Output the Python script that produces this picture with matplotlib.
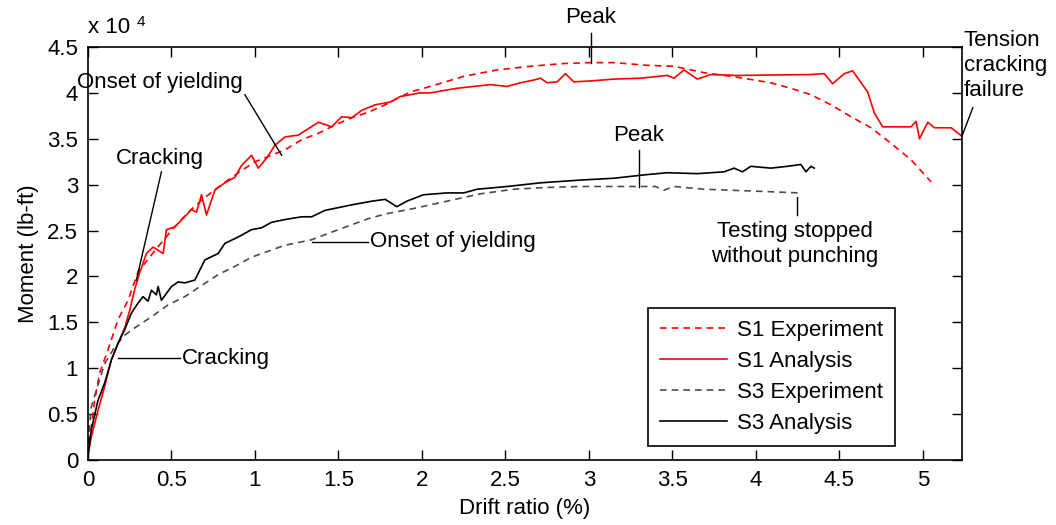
import matplotlib
matplotlib.use("Agg")
import matplotlib.pyplot as plt

# --------------------------------------------------
# Data (drift ratio in %, moment in lb-ft)
# --------------------------------------------------
s1_exp_x = [0, 0.04, 0.07, 0.12, 0.18, 0.24, 0.30, 0.40, 0.50, 0.60, 0.70, 0.80,
            0.90, 1.00, 1.10, 1.18, 1.28, 1.38, 1.48, 1.58, 1.68, 1.78, 1.93, 2.05,
            2.25, 2.45, 2.65, 2.85, 3.01, 3.15, 3.35, 3.51, 3.69, 3.89, 4.09, 4.21,
            4.33, 4.45, 4.57, 4.69, 4.81, 4.93, 5.05]
s1_exp_y = [700, 6500, 9500, 12000, 15300, 17400, 20500, 22800, 25000, 27000, 28600, 30000,
            31300, 32500, 33200, 33800, 34900, 35600, 36500, 37300, 37900, 38700, 40100, 40700,
            41800, 42500, 42900, 43200, 43300, 43300, 43000, 42900, 42200, 41700, 41100, 40500,
            39800, 38700, 37400, 36200, 34500, 32700, 30300]

s1_ana_x = [0, 0.02, 0.06, 0.10, 0.14, 0.18, 0.22, 0.25, 0.28, 0.31, 0.35, 0.39, 0.45,
            0.47, 0.52, 0.58, 0.62, 0.65, 0.68, 0.71, 0.76, 0.82, 0.88, 0.92, 0.98, 1.02,
            1.07, 1.12, 1.18, 1.26, 1.38, 1.46, 1.52, 1.58, 1.64, 1.72, 1.81, 1.87, 1.99,
            2.05, 2.21, 2.41, 2.51, 2.59, 2.67, 2.71, 2.75, 2.81, 2.86, 2.91, 3.01, 3.15,
            3.31, 3.47, 3.51, 3.57, 3.65, 3.73, 3.89, 4.33, 4.41, 4.46, 4.53, 4.58, 4.67,
            4.71, 4.76, 4.93, 4.96, 4.98, 5.03, 5.07, 5.17, 5.24]
s1_ana_y = [500, 2500, 5400, 8000, 10900, 12700, 14400, 16300, 18600, 20400, 22500, 23200, 22500,
            25100, 25400, 26500, 27300, 27000, 28900, 26700, 29400, 30200, 30800, 32100, 33200, 31800,
            32900, 34300, 35200, 35400, 36800, 36300, 37400, 37300, 38100, 38700, 39000, 39600, 40000,
            40000, 40500, 40900, 40700, 41100, 41400, 41600, 41100, 41200, 42100, 41200, 41300, 41500,
            41600, 41900, 41600, 42500, 41500, 42000, 41900, 42000, 42100, 41000, 42100, 42400, 40100,
            37800, 36300, 36300, 36900, 35000, 36800, 36200, 36200, 35200]

s3_exp_x = [0, 0.02, 0.05, 0.10, 0.16, 0.22, 0.28, 0.38, 0.48, 0.58, 0.68, 0.78, 0.88,
            0.98, 1.18, 1.34, 1.50, 1.68, 1.78, 1.95, 2.15, 2.35, 2.55, 2.75, 2.95, 3.29,
            3.40, 3.45, 3.51, 3.69, 3.99, 4.26]
s3_exp_y = [1800, 5800, 7600, 10500, 12300, 13600, 14400, 15600, 16900, 17800, 19000, 20200, 21100,
            22100, 23400, 24000, 25100, 26300, 26800, 27400, 28200, 29000, 29500, 29700, 29800, 29800,
            29800, 29400, 29800, 29500, 29300, 29100]

s3_ana_x = [0, 0.02, 0.06, 0.10, 0.14, 0.18, 0.22, 0.26, 0.30, 0.33, 0.36, 0.38, 0.41,
            0.42, 0.44, 0.50, 0.54, 0.58, 0.64, 0.67, 0.70, 0.78, 0.82, 0.90, 0.98, 1.04,
            1.10, 1.18, 1.28, 1.34, 1.42, 1.50, 1.58, 1.70, 1.78, 1.85, 1.91, 2.01, 2.15,
            2.25, 2.33, 2.51, 2.71, 2.95, 3.15, 3.25, 3.35, 3.47, 3.65, 3.81, 3.87, 3.92,
            3.97, 4.09, 4.19, 4.27, 4.30, 4.33, 4.35]
s3_ana_y = [500, 3300, 6500, 8400, 10900, 12700, 14200, 16000, 17100, 17800, 17300, 18500, 18000,
            18900, 17400, 18900, 19400, 19300, 19600, 20700, 21800, 22500, 23600, 24300, 25100, 25300,
            25900, 26200, 26500, 26500, 27200, 27500, 27800, 28200, 28400, 27600, 28200, 28900, 29100,
            29100, 29500, 29800, 30200, 30500, 30700, 30900, 31100, 31300, 31200, 31400, 31800, 31400,
            32000, 31800, 32000, 32200, 31400, 32000, 31800]

x_ticks = [0, 0.5, 1, 1.5, 2, 2.5, 3, 3.5, 4, 4.5, 5]
x_tick_labels = ["0", "0.5", "1", "1.5", "2", "2.5", "3", "3.5", "4", "4.5", "5"]
y_ticks = [0, 5000, 10000, 15000, 20000, 25000, 30000, 35000, 40000, 45000]
y_tick_labels = ["0", "0.5", "1", "1.5", "2", "2.5", "3", "3.5", "4", "4.5"]

# --------------------------------------------------
# Figure
# --------------------------------------------------
plt.rcParams["font.family"] = ["Liberation Sans", "DejaVu Sans"]
plt.rcParams["font.size"] = 16

fig = plt.figure(figsize=(10.56, 5.25), dpi=100)
ax = fig.add_axes([0.0833, 0.1238, 0.8277, 0.7867])

red = "#ff0000"
gray = "#4d4d4d"
lw = 1.2

ax.plot(s1_exp_x, s1_exp_y, color=red, lw=lw, dashes=(4, 3), label="S1 Experiment")
ax.plot(s1_ana_x, s1_ana_y, color=red, lw=lw, label="S1 Analysis")
ax.plot(s3_exp_x, s3_exp_y, color=gray, lw=lw, dashes=(4, 3), label="S3 Experiment")
ax.plot(s3_ana_x, s3_ana_y, color="black", lw=lw, label="S3 Analysis")

ax.set_xlim(0, 5.235)
ax.set_ylim(0, 45000)
ax.set_xticks(x_ticks)
ax.set_xticklabels(x_tick_labels)
ax.set_yticks(y_ticks)
ax.set_yticklabels(y_tick_labels)
ax.tick_params(direction="in", length=7, width=1, top=True, right=True, pad=7)
for sp in ax.spines.values():
    sp.set_linewidth(1.2)

ax.set_xlabel("Drift ratio (%)", labelpad=5)
ax.set_ylabel("Moment (lb-ft)", labelpad=6)

# exponent label
ax.text(0.0, 1.047, "x 10", transform=ax.transAxes, ha="left", va="center")
ax.text(0.056, 1.06, "4", transform=ax.transAxes, ha="left", va="center", fontsize=11)

# --------------------------------------------------
# Annotations
# --------------------------------------------------
ann = dict(color="black", lw=1, clip_on=False)

# S1 peak
ax.plot([3.01, 3.01], [43300, 46500], **ann)
ax.text(3.01, 48200, "Peak", ha="center", va="center")

# S1 onset of yielding
ax.plot([0.94, 1.16], [39800, 33200], **ann)
ax.text(0.43, 41100, "Onset of yielding", ha="center", va="center")

# S1 cracking
ax.plot([0.44, 0.29], [31400, 19600], **ann)
ax.text(0.43, 32900, "Cracking", ha="center", va="center")

# S3 cracking
ax.plot([0.18, 0.55], [11100, 11100], **ann)
ax.text(0.56, 11100, "Cracking", ha="left", va="center")

# S3 onset of yielding
ax.plot([1.34, 1.68], [23800, 23800], **ann)
ax.text(1.69, 23800, "Onset of yielding", ha="left", va="center")

# S3 peak
ax.plot([3.30, 3.30], [29750, 33800], **ann)
ax.text(3.30, 35400, "Peak", ha="center", va="center")

# testing stopped
ax.plot([4.245, 4.245], [28700, 26700], **ann)
ax.text(4.235, 23500, "Testing stopped\nwithout punching", ha="center", va="center",
        linespacing=1.25)

# tension cracking failure
ax.plot([5.3, 5.235], [38400, 35300], **ann)
ax.text(5.245, 43000, "Tension\ncracking\nfailure", ha="left", va="center",
        linespacing=1.25)

# --------------------------------------------------
# Legend
# --------------------------------------------------
leg = ax.legend(loc="lower left", bbox_to_anchor=(0.641, 0.034), frameon=True,
                fancybox=False, edgecolor="black", framealpha=1,
                handlelength=3.0, handletextpad=0.45, labelspacing=0.45,
                borderpad=0.55, borderaxespad=0)
leg.get_frame().set_linewidth(1.2)

fig.savefig("out.png", dpi=100)
